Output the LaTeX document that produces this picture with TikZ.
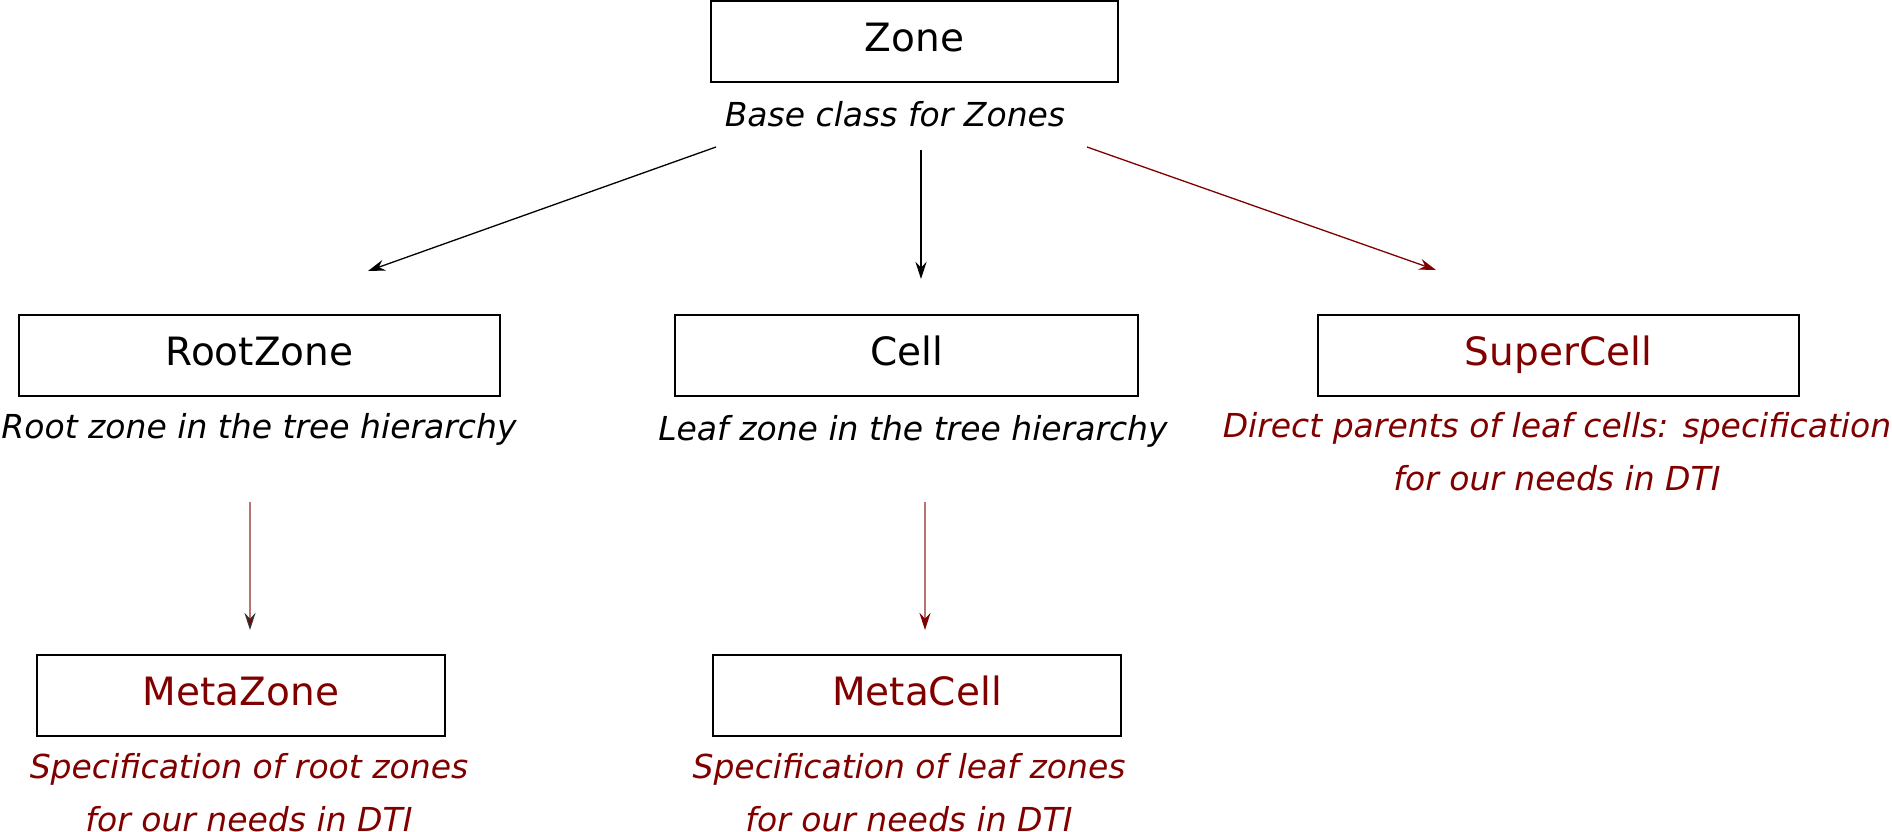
\documentclass[tikz,border=0pt]{standalone}
\usepackage{fontspec}
\setmainfont{DejaVu Sans}
\usetikzlibrary{arrows.meta}
\definecolor{darkred}{HTML}{800000}
\tikzset{
classbox/.style={draw, line width=1pt, minimum height=40.5pt, inner sep=0pt,
  text height=14pt, text depth=4pt, font=\fontsize{19.5}{23}\selectfont},
classnote/.style={font=\fontsize{16.5}{26.5}\selectfont\itshape, align=center, inner sep=0pt},
inherit/.style={-{Stealth[length=8.5pt,width=5.5pt]}, line width=0.65pt},
}
\begin{document}
\begin{tikzpicture}[x=0.5pt,y=-0.5pt]
\useasboundingbox (0,0) rectangle (1892,831);

% base class
\node[classbox, minimum width=203.5pt] (zone) at (914.5,41.5)
{Zone};
\node[classnote] (zonenote) at (895,114)
{Base class for Zones};

% second level
\node[classbox, minimum width=240.5pt] (rootzone) at (259.5,355.5)
{RootZone};
\node[classnote] (rootnote) at (259,429)
{Root zone in the tree hierarchy};

\node[classbox, minimum width=231.5pt] (cell) at (906.5,355.5)
{Cell};
\node[classnote] (cellnote) at (913,431)
{Leaf zone in the tree hierarchy};

\node[classbox, minimum width=240.5pt, text=darkred] (supercell) at (1558.5,355.5)
{SuperCell};
\node[classnote, text=darkred] (supernote) at (1557,452)
{Direct parents of leaf cells: specification\\for our needs in DTI};

% third level
\node[classbox, minimum width=204pt, text=darkred] (metazone) at (241,695.5)
{MetaZone};
\node[classnote, text=darkred] (metazonenote) at (249,793)
{Specification of root zones\\for our needs in DTI};

\node[classbox, minimum width=204pt, text=darkred] (metacell) at (917,695.5)
{MetaCell};
\node[classnote, text=darkred] (metacellnote) at (909,793)
{Specification of leaf zones\\for our needs in DTI};

% arrow ends
\coordinate (zoneL) at (716,147);
\coordinate (zoneM) at (921,150);
\coordinate (zoneR) at (1087,147);
\coordinate (toroot) at (368,271);
\coordinate (tocell) at (921,279);
\coordinate (tosuper) at (1436,270);
\coordinate (rootout) at (250,502);
\coordinate (tometazone) at (250,630);
\coordinate (cellout) at (925,502);
\coordinate (tometacell) at (925,630);

\draw[inherit] (zoneL) -- (toroot);
\draw[inherit] (zoneM) -- (tocell);
\draw[inherit, darkred] (zoneR) -- (tosuper);
\draw[inherit, draw=darkred!55, -{Stealth[length=8.5pt,width=5.5pt,fill=darkred,color=black!80]}]
(rootout) -- (tometazone);
\draw[inherit, draw=darkred!55, -{Stealth[length=8.5pt,width=5.5pt,fill=darkred,color=darkred]}]
(cellout) -- (tometacell);

\end{tikzpicture}
\end{document}
